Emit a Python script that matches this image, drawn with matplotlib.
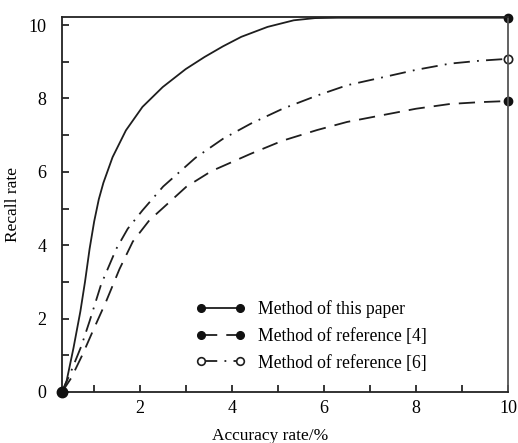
import numpy as np
import matplotlib.pyplot as plt
from matplotlib.lines import Line2D

plt.rcParams['font.family'] = ['Liberation Serif', 'DejaVu Serif']

# Values
x_paper = [0.3, 0.4, 0.55, 0.7, 0.8, 0.9, 1.0, 1.1, 1.2, 1.4, 1.69, 2.05, 2.49, 2.99, 3.4, 3.8, 4.2, 4.77, 5.34, 5.8, 6.3, 7.0, 8.0, 9.0, 10.0]
y_paper = [0, 0.3, 1.2, 2.2, 3.0, 3.9, 4.65, 5.25, 5.7, 6.4, 7.13, 7.77, 8.31, 8.8, 9.13, 9.42, 9.68, 9.95, 10.13, 10.19, 10.2, 10.2, 10.2, 10.2, 10.2]

x_ref4 = [0.3, 0.5, 0.75, 0.97, 1.26, 1.55, 1.84, 2.2, 2.5, 3.0, 3.55, 4.4, 5.1, 5.85, 6.5, 7.29, 8.0, 8.74, 9.4, 10.0]
y_ref4 = [0, 0.38, 1.03, 1.66, 2.47, 3.35, 4.1, 4.68, 5.02, 5.59, 6.02, 6.49, 6.85, 7.14, 7.36, 7.55, 7.72, 7.85, 7.9, 7.93]

x_ref6 = [0.3, 0.5, 0.72, 0.9, 1.15, 1.48, 1.73, 2.05, 2.5, 3.2, 3.8, 4.4, 5.1, 5.85, 6.5, 7.29, 8.0, 8.74, 9.4, 10.0]
y_ref6 = [0, 0.57, 1.25, 1.93, 2.93, 3.9, 4.45, 4.95, 5.6, 6.38, 6.9, 7.31, 7.72, 8.08, 8.36, 8.58, 8.78, 8.95, 9.03, 9.08]

labels = ['Method of this paper', 'Method of reference [4]', 'Method of reference [6]']

fig = plt.figure(figsize=(5.18, 4.43), dpi=100)
ax = fig.add_axes([62/518, 51/443, 446/518, 375/443])

lw = 1.3
ink = '#1e1e1e'
# dash-dot first so the filled origin dots sit on top
ax.plot(x_ref6, y_ref6, color=ink, lw=lw, dashes=(9, 4, 1, 4),
        marker='o', markevery=[0, -1], ms=6, mfc='white', mec=ink, mew=1.2, clip_on=False)
ax.plot(x_ref4, y_ref4, color=ink, lw=lw, dashes=(9, 5),
        marker='o', markevery=[0, -1], ms=6, mfc='#111111', mec='#111111', clip_on=False)
ax.plot(x_paper, y_paper, color=ink, lw=lw, ls='-',
        marker='o', markevery=[0, -1], ms=6, mfc='#111111', mec='#111111', clip_on=False)
# bigger dot at the shared start point
ax.plot(x_paper[:1], y_paper[:1], 'o', color='#111111', ms=7.5, clip_on=False, zorder=5)

ax.set_xlim(0.3, 10)
ax.set_ylim(0, 10.22)
ax.set_xticks([2, 4, 6, 8, 10])
ax.set_xticks([1, 3, 5, 7, 9], minor=True)
ax.set_yticks([0, 2, 4, 6, 8, 10])
ax.set_yticks([1, 3, 5, 7, 9], minor=True)
ax.tick_params(which='major', direction='in', length=5, width=1.1, labelsize=13, pad=6)
ax.tick_params(which='minor', direction='in', length=5, width=1.1)
ax.tick_params(axis='y', pad=11)

for side in ['left', 'bottom', 'top']:
    ax.spines[side].set_linewidth(1.3)
    ax.spines[side].set_color('#222222')
ax.spines['right'].set_linewidth(1.3)
ax.spines['right'].set_color('#555555')

ax.set_xlabel('Accuracy rate/%', fontsize=12.5)
ax.xaxis.set_label_coords(0.466, -0.095)
ax.set_ylabel('Recall rate', fontsize=12.5)
ax.yaxis.set_label_coords(-0.093, 0.5)

handles = [
    Line2D([], [], color=ink, lw=lw, ls='-', marker='o', ms=5.5, mfc='#111111', mec='#111111'),
    Line2D([], [], color=ink, lw=lw, dashes=(9, 5), marker='o', ms=5.5, mfc='#111111', mec='#111111'),
    Line2D([], [], color=ink, lw=lw, dashes=(9, 4, 1, 4), marker='o', ms=5.5, mfc='white', mec=ink, mew=1.2),
]
ax.legend(handles, labels, loc='center left', bbox_to_anchor=(0.3, 0.15), frameon=False,
          numpoints=2, handlelength=2.8, handletextpad=0.75, labelspacing=0.56,
          borderpad=0, borderaxespad=0, fontsize=12.7)

fig.savefig('out.png', dpi=100)
